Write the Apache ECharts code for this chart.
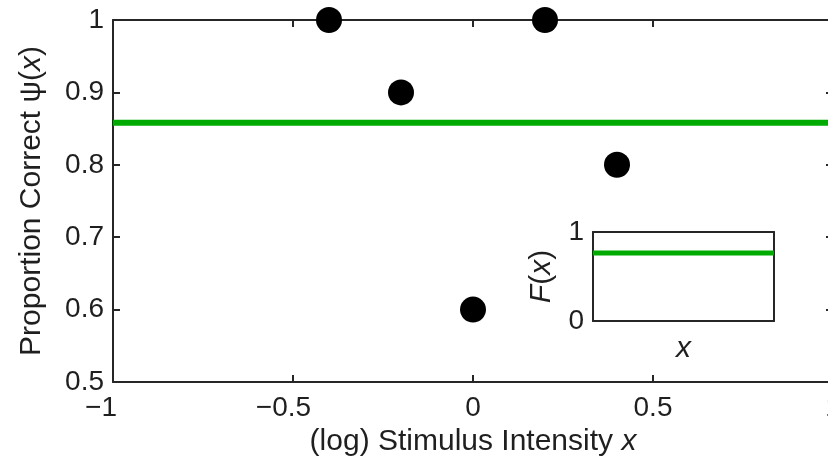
<!DOCTYPE html>
<html>
<head>
<meta charset="utf-8">
<script src="https://cdn.jsdelivr.net/npm/echarts@6/dist/echarts.min.js"></script>
<style>
html,body{margin:0;padding:0;background:#fff;}
#chart{width:828px;height:458px;}
</style>
</head>
<body>
<div id="chart"></div>
<script>
// ---- data ----
const stimulusX = [-0.4, -0.2, 0, 0.2, 0.4];
const proportionCorrect = [1, 0.9, 0.6, 1, 0.8];
const psiLevel = 0.858;          // constant psychometric level (green line)
const xRange = [-1, 1];
const xTickStep = 0.5;
const yRange = [0.5, 1];
const yTickStep = 0.1;
const insetXRange = [0, 1];
const insetYRange = [0, 1];
const insetFLevel = 0.765;       // F(x) in inset

const FONT = 'Liberation Sans';
const TXT = '#1f1f1f';
const AX = '#262626';
const GREEN = '#00aa00';
const LBL = 28;
const NAME = 30;

function fmtNum(v) {
  const s = String(Math.round(v * 10) / 10);
  return v < 0 ? '\u2212' + s.slice(1) : s;
}

const chart = echarts.init(document.getElementById('chart'), null, {renderer: 'canvas'});

const mainGrid = {left: 113, top: 20, width: 720, height: 362, outerBoundsMode: 'none', containLabel: false};
const insetGrid = {left: 593, top: 232, width: 181, height: 89, outerBoundsMode: 'none', containLabel: false};

const option = {
  backgroundColor: '#fff',
  animation: false,
  textStyle: {fontFamily: FONT},
  grid: [mainGrid, insetGrid],
  xAxis: [
    { // 0 main bottom
      type: 'value', gridIndex: 0, position: 'bottom',
      min: xRange[0], max: xRange[1], interval: xTickStep,
      axisLine: {show: true, onZero: false, lineStyle: {color: AX, width: 2}},
      axisTick: {show: true, inside: true, length: 7, lineStyle: {color: AX, width: 2}},
      splitLine: {show: false},
      axisLabel: {
        show: true, margin: 12, fontSize: LBL, fontFamily: FONT, color: TXT,
        showMinLabel: true, showMaxLabel: true, hideOverlap: false,
        formatter: v => {
          if (v === xRange[0]) return '{m|' + fmtNum(v) + '}';
          if (v < 0) return '{n|' + fmtNum(v) + '}';
          return fmtNum(v);
        },
        rich: {
          n: {fontSize: LBL, fontFamily: FONT, color: TXT, padding: [0, 19, 0, 0]},
          m: {fontSize: LBL, fontFamily: FONT, color: TXT, padding: [0, 24, 0, 0]}
        }
      },
      name: '{a|(log) Stimulus Intensity }{i|x}',
      nameLocation: 'middle', nameGap: 42,
      nameTextStyle: {
        rich: {
          a: {fontSize: NAME, fontFamily: FONT, color: TXT},
          i: {fontSize: NAME, fontFamily: FONT, color: TXT, fontStyle: 'italic'}
        }
      }
    },
    { // 1 main top (ticks only)
      type: 'value', gridIndex: 0, position: 'top',
      min: xRange[0], max: xRange[1], interval: xTickStep,
      axisLine: {show: true, onZero: false, lineStyle: {color: AX, width: 2}},
      axisTick: {show: true, inside: true, length: 7, lineStyle: {color: AX, width: 2}},
      axisLabel: {show: false}, splitLine: {show: false}
    },
    { // 2 inset bottom
      type: 'value', gridIndex: 1, position: 'bottom',
      min: insetXRange[0], max: insetXRange[1],
      axisLine: {show: true, onZero: false, lineStyle: {color: AX, width: 2}},
      axisTick: {show: false}, axisLabel: {show: false}, splitLine: {show: false},
      name: 'x', nameLocation: 'middle', nameGap: 13,
      nameTextStyle: {fontSize: NAME, fontFamily: FONT, color: TXT, fontStyle: 'italic'}
    },
    { // 3 inset top
      type: 'value', gridIndex: 1, position: 'top',
      min: insetXRange[0], max: insetXRange[1],
      axisLine: {show: true, onZero: false, lineStyle: {color: AX, width: 2}},
      axisTick: {show: false}, axisLabel: {show: false}, splitLine: {show: false}
    }
  ],
  yAxis: [
    { // 0 main left
      type: 'value', gridIndex: 0, position: 'left',
      min: yRange[0], max: yRange[1], interval: yTickStep,
      axisLine: {show: true, onZero: false, lineStyle: {color: AX, width: 2}},
      axisTick: {show: true, inside: true, length: 7, lineStyle: {color: AX, width: 2}},
      splitLine: {show: false},
      axisLabel: {show: true, margin: 9, fontSize: LBL, fontFamily: FONT, color: TXT, formatter: fmtNum,
        showMinLabel: true, showMaxLabel: true, hideOverlap: false},
      name: '{a|Proportion Correct \u03C8(}{i|x}{a|)}',
      nameLocation: 'middle', nameGap: 66, nameRotate: 90,
      nameTextStyle: {
        rich: {
          a: {fontSize: NAME, fontFamily: FONT, color: TXT},
          i: {fontSize: NAME, fontFamily: FONT, color: TXT, fontStyle: 'italic'}
        }
      }
    },
    { // 1 main right (ticks only)
      type: 'value', gridIndex: 0, position: 'right',
      min: yRange[0], max: yRange[1], interval: yTickStep,
      axisLine: {show: true, onZero: false, lineStyle: {color: AX, width: 2}},
      axisTick: {show: true, inside: true, length: 7, lineStyle: {color: AX, width: 2}},
      axisLabel: {show: false}, splitLine: {show: false}
    },
    { // 2 inset left
      type: 'value', gridIndex: 1, position: 'left',
      min: insetYRange[0], max: insetYRange[1], interval: 1,
      axisLine: {show: true, onZero: false, lineStyle: {color: AX, width: 2}},
      axisTick: {show: false}, splitLine: {show: false},
      axisLabel: {show: true, margin: 9, fontSize: LBL, fontFamily: FONT, color: TXT},
      name: '{i|F}{a|(}{i|x}{a|)}',
      nameLocation: 'middle', nameGap: 36, nameRotate: 90,
      nameTextStyle: {
        rich: {
          a: {fontSize: NAME, fontFamily: FONT, color: TXT},
          i: {fontSize: NAME, fontFamily: FONT, color: TXT, fontStyle: 'italic'}
        }
      }
    },
    { // 3 inset right
      type: 'value', gridIndex: 1, position: 'right',
      min: insetYRange[0], max: insetYRange[1],
      axisLine: {show: true, onZero: false, lineStyle: {color: AX, width: 2}},
      axisTick: {show: false}, axisLabel: {show: false}, splitLine: {show: false}
    }
  ],
  series: [
    {
      type: 'line', xAxisIndex: 0, yAxisIndex: 0,
      data: xRange.map(x => [x, psiLevel]),
      showSymbol: false, symbol: 'none', clip: false,
      lineStyle: {color: GREEN, width: 6}, z: 3
    },
    {
      type: 'scatter', xAxisIndex: 0, yAxisIndex: 0,
      data: stimulusX.map((x, i) => [x, proportionCorrect[i]]),
      symbol: 'circle', symbolSize: 26, clip: false,
      itemStyle: {color: '#000', opacity: 1}, z: 4
    },
    {
      type: 'line', xAxisIndex: 2, yAxisIndex: 2,
      data: insetXRange.map(x => [x, insetFLevel]),
      showSymbol: false, symbol: 'none',
      lineStyle: {color: GREEN, width: 5}, z: 3
    }
  ]
};
chart.setOption(option);
</script>
</body>
</html>
